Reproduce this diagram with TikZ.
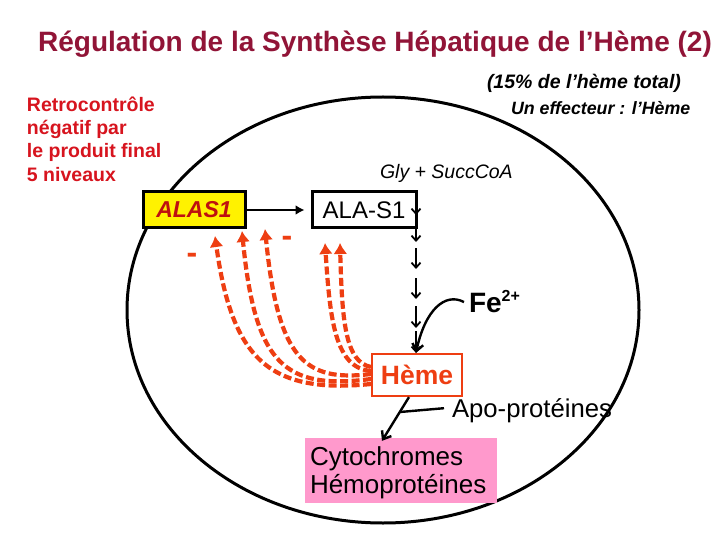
\documentclass[tikz,border=0pt]{standalone}
\usepackage{fontspec}
\setmainfont{Liberation Sans}
\usetikzlibrary{arrows.meta,calc}
\definecolor{titlered}{RGB}{145,20,55}
\definecolor{fbred}{RGB}{215,20,30}
\definecolor{alasred}{RGB}{190,16,16}
\definecolor{hemeor}{RGB}{238,62,18}
\definecolor{pinkbox}{RGB}{255,153,204}
\newcommand{\fsz}[1]{\fontsize{#1}{#1}\selectfont}
\begin{document}
\begin{tikzpicture}[x=1pt,y=-1pt,
  txt/.style={inner sep=0pt,outer sep=0pt},
  enzbox/.style={draw=black,line width=3pt,inner sep=0pt,minimum height=36pt},
  hemebox/.style={draw=hemeor,line width=2.2pt,fill=white,inner sep=0pt,minimum width=90pt,minimum height=42pt,text=hemeor},
  stepline/.style={line width=1.8pt,-{Straight Barb[length=5pt,width=9pt]}},
  blackarr/.style={line width=2.4pt,-{Straight Barb[length=7pt,width=11pt]}},
  feedback/.style={draw=hemeor,line width=4.2pt,dash pattern=on 8pt off 3.5pt,-{Latex[length=11pt,width=14pt]}},
  minussign/.style={txt,text=hemeor,font=\fsz{32}\bfseries}
]
\useasboundingbox (0,0) rectangle (720,540);
\fill[white] (0,0) rectangle (720,540);

% cell outline
\draw[line width=3pt] (383,310) ellipse [x radius=256pt, y radius=213pt];

% title and side texts
\node[txt,anchor=base,text=titlered] (title) at (375,52) {\fsz{28}\bfseries Régulation de la Synthèse Hépatique de l’Hème (2)};
\node[txt,anchor=base west] (pct) at (487,89) {\fsz{19.5}\bfseries\itshape (15\% de l’hème total)};
\node[txt,anchor=base west] (eff) at (511,115) {\fsz{17.8}\bfseries\itshape Un effecteur : l’Hème};
\node[txt,anchor=base west,text=fbred] (r1) at (27,112) {\fsz{19.5}\bfseries Retrocontrôle};
\node[txt,anchor=base west,text=fbred] (r2) at (27,135) {\fsz{19.5}\bfseries négatif par};
\node[txt,anchor=base west,text=fbred] (r3) at (27,158) {\fsz{19.5}\bfseries le produit final};
\node[txt,anchor=base west,text=fbred] (r4) at (27,182) {\fsz{19.5}\bfseries 5 niveaux};
\node[txt,anchor=base west] (gly) at (380,179) {\fsz{19.5}\itshape Gly + SuccCoA};

% feedback arrows (drawn before boxes)
\coordinate (s1) at (371,384);
\coordinate (s2) at (371,379);
\coordinate (s3) at (371,374);
\coordinate (s4) at (371,371);
\coordinate (s5) at (371,367);
\coordinate (t1) at (215,236);
\coordinate (t2) at (242,231);
\coordinate (t3) at (265,229);
\coordinate (t4) at (325,243);
\coordinate (t5) at (340,243);
\draw[feedback] (s1) .. controls (270,394) and (232,360) .. (t1);
\draw[feedback] (s2) .. controls (285,390) and (255,365) .. (t2);
\draw[feedback] (s3) .. controls (305,382) and (278,360) .. (t3);
\draw[feedback] (s4) .. controls (335,368) and (330,320) .. (t4);
\draw[feedback] (s5) .. controls (345,362) and (342,320) .. (t5);

% boxes
\node[enzbox,fill=yellow,minimum width=102pt,text=alasred] (alas) at (194,210) {\fsz{23}\bfseries\itshape ALAS1};
\node[enzbox,fill=white,minimum width=104pt] (alas1) at (364,210) {\fsz{24}ALA-S1};
\node[hemebox] (heme) at (417,375) {\fsz{26.5}\bfseries Hème};
\node[fill=pinkbox,inner sep=0pt,minimum width=192pt,minimum height=65pt] (cyto) at (401,470.5) {};
\node[txt,anchor=base west] (cyto1) at (310,465) {\fsz{26}Cytochromes};
\node[txt,anchor=base west] (cyto2) at (310,493) {\fsz{26}Hémoprotéines};
\node[txt,anchor=base west] (fe) at (469,312) {\fsz{28}\bfseries Fe{\fsz{16}\raisebox{11pt}{2+}}};
\node[txt,anchor=base west] (apo) at (452,417) {\fsz{25.7}Apo-protéines};

% minus signs
\node[minussign] (m1) at (192,258) {-};
\node[minussign] (m2) at (287,241) {-};

% ALAS1 -> ALA-S1
\draw[line width=2.4pt,-{Latex[length=9pt,width=10pt]}] (alas.east) -- ($(alas1.west)+(-6,0)$);

% pathway steps
\coordinate (c0) at (416,193);
\coordinate (c1) at (416,215);
\coordinate (c2) at (416,228);
\coordinate (c3) at (416,242);
\coordinate (c4) at (416,248);
\coordinate (c5) at (416,269);
\coordinate (c6) at (416,278);
\coordinate (c7) at (416,299);
\coordinate (c8) at (416,306);
\coordinate (c9) at (416,328);
\coordinate (c10) at (416,331);
\draw[stepline] (c0) -- (c1);
\draw[stepline] (c2) -- (c3);
\draw[stepline] (c4) -- (c5);
\draw[stepline] (c6) -- (c7);
\draw[stepline] (c8) -- (c9);
\draw[stepline] (c10) -- (heme.north -| c10);

% Fe2+ incorporation
\draw[blackarr] ($(fe.west)+(-5,1)$) .. controls (445,292) and (425,310) .. (heme.north -| c10);

% Heme -> cytochromes, apo-proteins
\coordinate (apoj) at (400,412);
\draw[blackarr] ($(heme.south)+(-8,0)$) -- ($(cyto.north)+(-19,3)$);
\draw[line width=2.4pt] ($(apo.west)+(-8,-2)$) -- (apoj);
\end{tikzpicture}
\end{document}
